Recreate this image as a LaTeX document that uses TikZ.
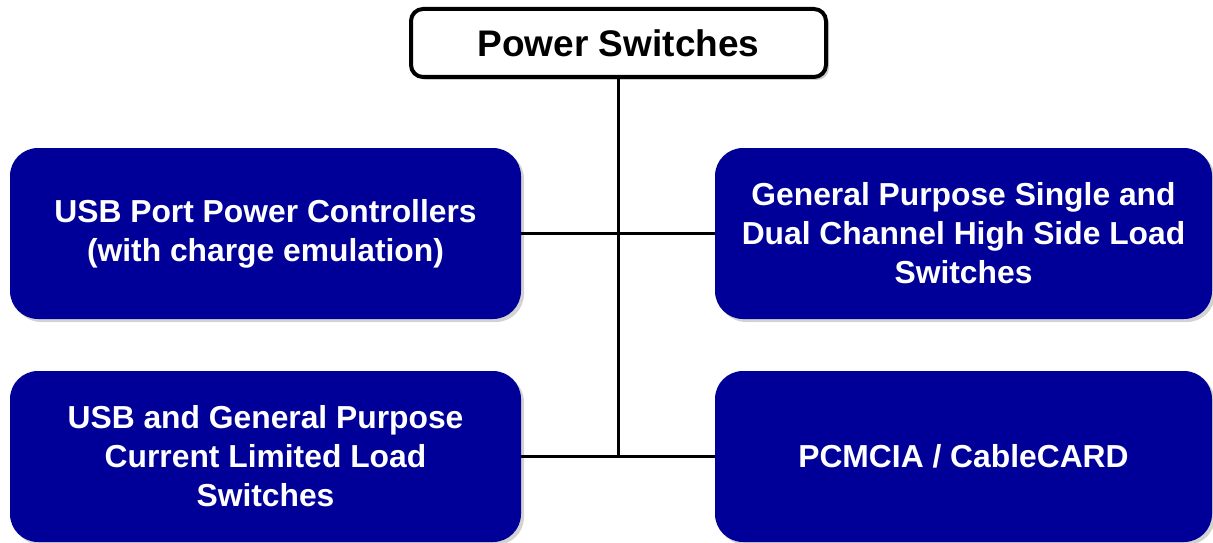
\documentclass[tikz,border=0pt]{standalone}
\usepackage{fontspec}
\setmainfont{Liberation Sans}
\usepackage{tikz}
\usetikzlibrary{calc,shadows}
\usepackage{xcolor}
\definecolor{tiblue}{HTML}{000099}

\tikzset{
  headbox/.style={draw=black,line width=4pt,fill=white,rounded corners=12pt,
    minimum width=415pt,minimum height=68pt,
    font=\fontsize{37}{42}\selectfont\bfseries,
    drop shadow={shadow xshift=3pt,shadow yshift=-3pt,opacity=0.4}},
  famleft/.style={fill=tiblue,text=white,rounded corners=28pt,
    minimum width=511pt,minimum height=171pt,align=center,
    font=\fontsize{31.8}{39}\selectfont\bfseries,
    drop shadow={shadow xshift=3pt,shadow yshift=-3pt,opacity=0.35}},
  famright/.style={famleft,minimum width=497pt},
  link/.style={draw=black,line width=2.2pt}
}

\begin{document}
\begin{tikzpicture}[x=1pt,y=-1pt]
\useasboundingbox (0,0) rectangle (1213,543);
\node[headbox] (top) at (618.5,43) {Power Switches};
\node[famleft] (usbport) at (265.5,233.5) {USB Port Power Controllers\\(with charge emulation)};
\node[famright] (hside) at (963.5,233.5) {General Purpose Single and\\Dual Channel High Side Load\\Switches};
\node[famleft] (climit) at (265.5,456.5) {USB and General Purpose\\Current Limited Load\\Switches};
\node[famright] (pcm) at (963.5,456.5) {PCMCIA / CableCARD};
% trunk and branches
\coordinate (trunkend) at (top.south |- pcm.west);
\draw[link] (top.south) -- (trunkend);
\draw[link] (usbport.east) -- (hside.west);
\draw[link] (climit.east) -- (pcm.west);
\end{tikzpicture}
\end{document}
